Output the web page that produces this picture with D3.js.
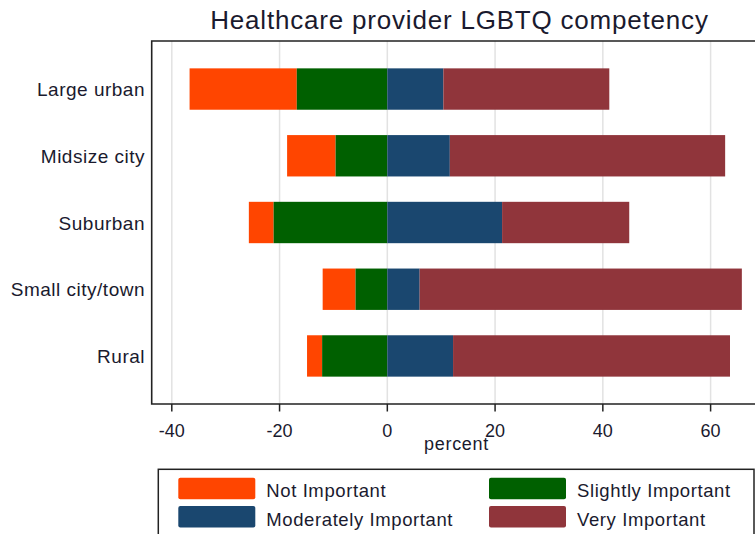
<!DOCTYPE html>
<html>
<head>
<meta charset="utf-8">
<script src="https://cdnjs.cloudflare.com/ajax/libs/d3/7.8.5/d3.min.js"></script>
<style>
	body { margin: 0; background: #fff; }
	text { font-family: Arial, "Liberation Sans", sans-serif; fill: #1a1a2e; }
</style>
</head>
<body>
<div id="chart"></div>
<script>

let categories = ["Large urban", "Midsize city", "Suburban", "Small city/town", "Rural"];
let notImportant = [19.9, 9.0, 4.6, 6.1, 2.8];
let slightlyImportant = [16.8, 9.6, 21.1, 5.9, 12.1];
let moderatelyImportant = [10.4, 11.6, 21.3, 6.0, 12.2];
let veryImportant = [30.8, 51.1, 23.6, 59.8, 51.4];
let xTicks = [-40, -20, 0, 20, 40, 60];
let seriesNames = ["Not Important", "Slightly Important", "Moderately Important", "Very Important"];
let seriesColors = ["#FF4500", "#006000", "#1A476F", "#90353B"];

function drawChart()
{
	let width = 755,
		height = 534;

	let svg = d3.select("#chart")
		.append("svg")
			.attr("width", width)
			.attr("height", height);

	let left = 151.7, right = 762, top = 41, bottom = 404;

	let x = d3.scaleLinear()
		.domain([-40, 60])
		.range([171.8, 710.6]);

	let y = d3.scaleBand()
		.domain(categories)
		.range([top, bottom])
		.paddingInner(0.38)
		.paddingOuter(0.41);

	// gridlines
	svg.selectAll(".grid")
		.data(xTicks)
		.enter()
		.append("line")
		.attr("x1", d => x(d))
		.attr("x2", d => x(d))
		.attr("y1", top)
		.attr("y2", bottom)
		.attr("stroke", "#e2e2e2")
		.attr("stroke-width", 1.5);

	// build segments: negatives stack left from zero, positives right
	let rows = categories.map(function(c, i) {
		let ni = notImportant[i], si = slightlyImportant[i];
		let mi = moderatelyImportant[i], vi = veryImportant[i];
		return [
			{ cat: c, s: 0, x0: -(si + ni), x1: -si },
			{ cat: c, s: 1, x0: -si, x1: 0 },
			{ cat: c, s: 2, x0: 0, x1: mi },
			{ cat: c, s: 3, x0: mi, x1: mi + vi }
		];
	});

	svg.selectAll(".seg")
		.data(rows.flat())
		.enter()
		.append("rect")
		.attr("x", d => x(d.x0))
		.attr("y", d => y(d.cat))
		.attr("width", d => x(d.x1) - x(d.x0))
		.attr("height", y.bandwidth())
		.attr("fill", d => seriesColors[d.s]);

	// frame
	svg.append("path")
		.attr("d", "M" + right + "," + top + "H" + left + "V" + bottom + "H" + right)
		.attr("fill", "none")
		.attr("stroke", "#222")
		.attr("stroke-width", 1.6);

	// x ticks
	svg.selectAll(".tick")
		.data(xTicks)
		.enter()
		.append("line")
		.attr("x1", d => x(d))
		.attr("x2", d => x(d))
		.attr("y1", bottom)
		.attr("y2", bottom + 7.5)
		.attr("stroke", "#222")
		.attr("stroke-width", 1.5);

	svg.selectAll(".xlab")
		.data(xTicks)
		.enter()
		.append("text")
		.attr("x", d => x(d))
		.attr("y", 436.7)
		.attr("text-anchor", "middle")
		.style("font-size", "18px")
		.text(d => d);

	svg.append("text")
		.attr("x", 456.5)
		.attr("y", 450)
		.attr("text-anchor", "middle")
		.style("font-size", "18px")
		.style("letter-spacing", "0.7px")
		.text("percent");

	// y labels
	svg.selectAll(".ylab")
		.data(categories)
		.enter()
		.append("text")
		.attr("x", 145)
		.attr("y", d => y(d) + y.bandwidth() / 2 + 7)
		.attr("text-anchor", "end")
		.style("font-size", "19px")
		.style("letter-spacing", "0.5px")
		.text(d => d);

	// title
	svg.append("text")
		.attr("x", 459.5)
		.attr("y", 29.3)
		.attr("text-anchor", "middle")
		.style("font-size", "26px")
		.style("letter-spacing", "0.8px")
		.text("Healthcare provider LGBTQ competency");

	// legend
	svg.append("rect")
		.attr("x", 158.3)
		.attr("y", 469.3)
		.attr("width", 754 - 158.3)
		.attr("height", 80)
		.attr("fill", "#fff")
		.attr("stroke", "#222")
		.attr("stroke-width", 1.5);

	let legendPos = [
		{ sx: 178.3, sy: 477.7 },
		{ sx: 489, sy: 477.7 },
		{ sx: 178.3, sy: 506 },
		{ sx: 489, sy: 506 }
	];

	let legend = svg.selectAll(".leg")
		.data(seriesNames)
		.enter()
		.append("g")
		.attr("transform", (d, i) => "translate(" + legendPos[i].sx + "," + legendPos[i].sy + ")");

	legend.append("rect")
		.attr("width", 77)
		.attr("height", 21.5)
		.attr("rx", 2)
		.attr("fill", (d, i) => seriesColors[i]);

	legend.append("text")
		.attr("x", 88)
		.attr("y", 19.5)
		.style("font-size", "18.5px")
		.style("letter-spacing", "0.6px")
		.text(d => d);
}

drawChart();

</script>
</body>
</html>
